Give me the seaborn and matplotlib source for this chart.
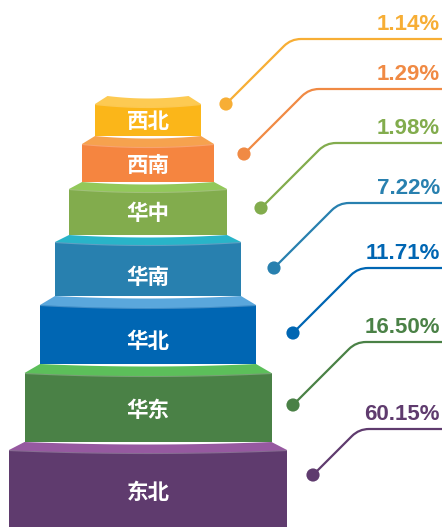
import numpy as np
import matplotlib
matplotlib.use("Agg")
import matplotlib.pyplot as plt
from matplotlib.patches import Polygon, PathPatch
from matplotlib.path import Path
import seaborn as sns
import pandas as pd

# ---- data ----
regions = ['西北', '西南', '华中', '华南', '华北', '华东', '东北']
shares = [1.14, 1.29, 1.98, 7.22, 11.71, 16.50, 60.15]

# ---- styles ----
body_colors = ['#FBB619', '#F58540', '#82AC4D', '#2880AF', '#0066B3', '#4A8146', '#5F3B6E']
cap_colors = ['#FDCA52', '#F6A24E', '#92C85A', '#29B4C8', '#5AA7DC', '#5CBF5A', '#9659A0']
line_colors = ['#F7AE35', '#F08A44', '#82AC4D', '#2880AF', '#0066B3', '#4A8146', '#5F3B6E']

# ---- layout (pixel coordinates) ----
cx = 148
cap_top = [96, 136, 182, 235, 296, 364, 442]
cap_bot = [104, 144, 189, 242, 305, 373, 450]
body_bot = [136, 182, 235, 296, 364, 442, 530]
top_w = [81, 106, 132, 158, 186, 216, 247]
body_w = [106, 132, 158, 186, 216, 247, 278]
label_y = [121, 165, 213, 277, 342, 410, 492]
dot_xy = [(226, 104), (244, 154), (261, 208), (274, 268), (293, 333), (293, 405), (313, 475)]
line_y = [39, 89, 143, 203, 268, 342, 429]

sns.set_theme(style='white')
plt.rcParams['font.family'] = ['Noto Sans CJK SC', 'DejaVu Sans']

fig = plt.figure(figsize=(4.42, 5.27), dpi=100)
ax = fig.add_axes([0, 0, 1, 1])

df = pd.DataFrame({'region': regions, 'share': shares})

# bodies
ax.bar([cx] * len(regions), [b - t for b, t in zip(body_bot, cap_bot)], width=body_w,
       bottom=cap_bot, color=body_colors, linewidth=0, zorder=2)

# caps
for i in range(len(regions)):
    n = 40
    u = np.linspace(-1, 1, n)
    sag_t, sag_b = 2.5, 3.0
    xt = cx + u * top_w[i] / 2
    yt = cap_top[i] + sag_t * (1 - u ** 2)
    xb = cx + u[::-1] * body_w[i] / 2
    yb = cap_bot[i] + sag_b * (1 - u[::-1] ** 2)
    pts = np.column_stack([np.concatenate([xt, xb]), np.concatenate([yt, yb])])
    ax.add_patch(Polygon(pts, closed=True, facecolor=cap_colors[i], edgecolor='none', zorder=3))
    ax.plot(xb, yb + 0.5, color='white', alpha=0.25, lw=0.8, zorder=3.5)
    # label
    ax.text(cx, label_y[i], df['region'][i], ha='center', va='center', color='white',
            fontsize=15.5, fontweight='bold', family=['Noto Sans CJK SC'], zorder=5)

# leader lines
r = 10
for i in range(len(regions)):
    xd, yd = dot_xy[i]
    yh = line_y[i]
    dy = yd - yh
    xcorner = xd + dy
    d = r / np.sqrt(2)
    verts = [(xd, yd), (xcorner - d, yh + d), (xcorner, yh), (xcorner + r, yh), (445, yh)]
    codes = [Path.MOVETO, Path.LINETO, Path.CURVE3, Path.CURVE3, Path.LINETO]
    ax.add_patch(PathPatch(Path(verts, codes), facecolor='none', edgecolor=line_colors[i],
                           lw=1.6, capstyle='round', zorder=4))
    ax.text(440, yh - 9, f"{df['share'][i]:.2f}%", ha='right', va='baseline',
            color=line_colors[i], fontsize=16, fontweight='bold',
            family=['Liberation Sans'], zorder=5)

sns.scatterplot(x=[p[0] for p in dot_xy], y=[p[1] for p in dot_xy], hue=regions,
                palette=line_colors, s=90, linewidth=0, legend=False, ax=ax, zorder=6)
ax.set_xlim(0, 442)
ax.set_ylim(527, 0)
ax.axis('off')

fig.savefig('out.png', dpi=100)
